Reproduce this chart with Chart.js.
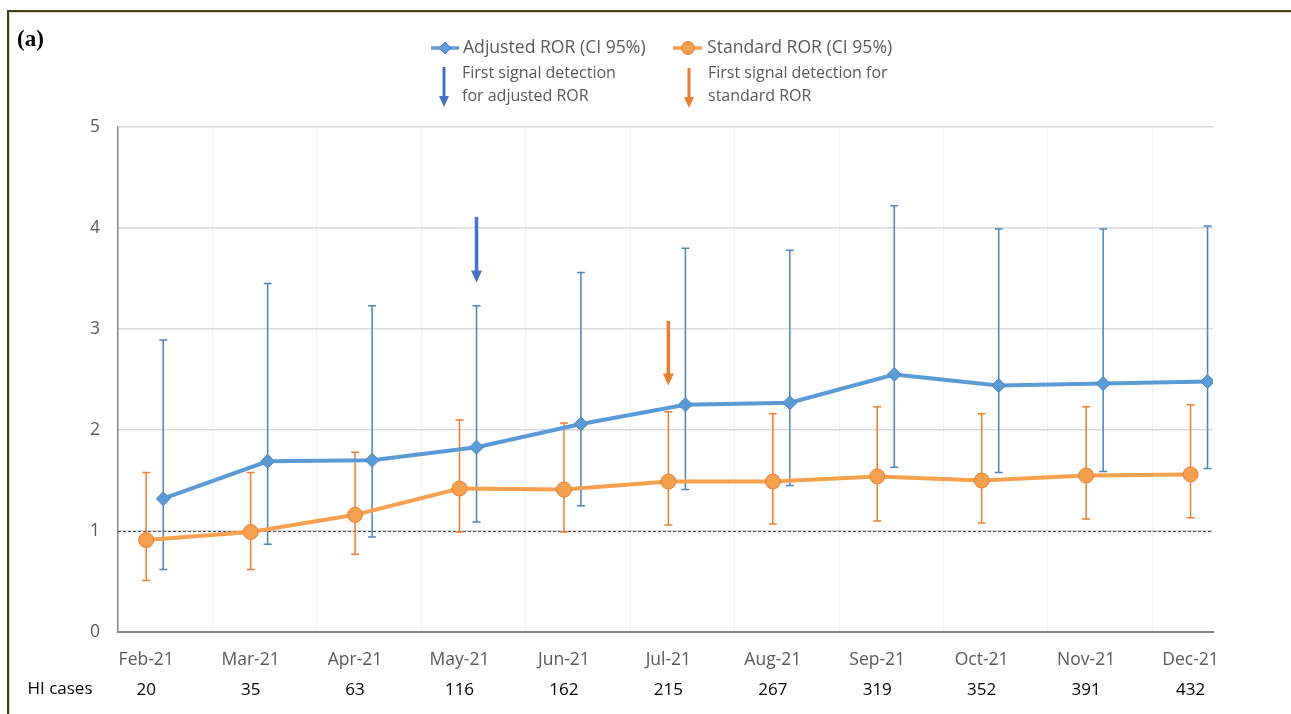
<!DOCTYPE html>
<html>
<head>
<meta charset="utf-8">
<script src="https://cdn.jsdelivr.net/npm/chart.js@4"></script>
<style>
  html, body { margin: 0; padding: 0; background: #fff; }
  #wrap { position: relative; width: 1291px; height: 714px; overflow: hidden; }
  #frame { position: absolute; left: 7px; top: 10px; right: -10px; bottom: -10px;
           border-left: 2px solid #3f3f22; border-top: 2px solid #3f3f22;
           box-shadow: inset 1px 1px 0 #d9d5b5; }
  canvas { position: absolute; left: 0; top: 0; }
</style>
</head>
<body>
<div id="wrap">
  <div id="frame"></div>
  <canvas id="rorChart" width="1291" height="714"></canvas>
</div>
<script>
const months = ["Feb-21", "Mar-21", "Apr-21", "May-21", "Jun-21", "Jul-21",
                "Aug-21", "Sep-21", "Oct-21", "Nov-21", "Dec-21"];
const hiCases = [20, 35, 63, 116, 162, 215, 267, 319, 352, 391, 432];

const adjustedRor = [1.32, 1.69, 1.70, 1.83, 2.06, 2.25, 2.27, 2.55, 2.44, 2.46, 2.48];
const adjustedLow = [0.62, 0.87, 0.94, 1.09, 1.25, 1.41, 1.45, 1.63, 1.58, 1.59, 1.62];
const adjustedHigh = [2.89, 3.45, 3.23, 3.23, 3.56, 3.80, 3.78, 4.22, 3.99, 3.99, 4.02];

const standardRor = [0.91, 0.99, 1.16, 1.42, 1.41, 1.49, 1.49, 1.54, 1.50, 1.55, 1.56];
const standardLow = [0.51, 0.62, 0.77, 0.99, 0.99, 1.06, 1.07, 1.10, 1.08, 1.12, 1.13];
const standardHigh = [1.58, 1.58, 1.78, 2.10, 2.07, 2.18, 2.16, 2.23, 2.16, 2.23, 2.25];

const yTicks = [0, 1, 2, 3, 4, 5];
const refLine = 1;

// first signal detection: month index and arrow span (ROR units)
const adjustedSignal = { month: 3, from: 4.11, to: 3.46 };
const standardSignal = { month: 5, from: 3.08, to: 2.44 };

// layout of the two series side by side on the month axis
const adjOffset = 0.163;
const xMin = -0.27, xMax = 10.215;
const gridOffset = 0.635;

const blue = "#5b9bd5", blueDark = "#4a84c0", blueArrow = "#4472c4";
const orange = "#f5a04e", orangeDark = "#ed7d31";
const grey = "#595959";
const FONT = "'Open Sans', sans-serif";

const adjPoints = months.map((m, i) => ({ x: i + adjOffset, y: adjustedRor[i] }));
const stdPoints = months.map((m, i) => ({ x: i, y: standardRor[i] }));

const errorBars = {
  id: "errorBars",
  beforeDatasetsDraw(chart) {
    const { ctx, scales: { x, y }, chartArea } = chart;
    ctx.save();
    // dashed reference line
    ctx.strokeStyle = "#4d4d4d";
    ctx.lineWidth = 1;
    ctx.setLineDash([3, 2]);
    const ry = Math.round(y.getPixelForValue(refLine)) + 0.5;
    ctx.beginPath();
    ctx.moveTo(chartArea.left, ry);
    ctx.lineTo(chartArea.right, ry);
    ctx.stroke();
    ctx.setLineDash([]);

    const bars = [
      { pts: adjPoints, lo: adjustedLow, hi: adjustedHigh, color: blueDark },
      { pts: stdPoints, lo: standardLow, hi: standardHigh, color: orangeDark },
    ];
    bars.forEach(b => {
      ctx.strokeStyle = b.color;
      ctx.lineWidth = 1.5;
      b.pts.forEach((p, i) => {
        const px = x.getPixelForValue(p.x);
        const y1 = y.getPixelForValue(b.lo[i]);
        const y2 = y.getPixelForValue(b.hi[i]);
        ctx.beginPath();
        ctx.moveTo(px, y1); ctx.lineTo(px, y2);
        ctx.moveTo(px - 4, y1); ctx.lineTo(px + 4, y1);
        ctx.moveTo(px - 4, y2); ctx.lineTo(px + 4, y2);
        ctx.stroke();
      });
    });
    ctx.restore();
  }
};

function arrow(ctx, x, y1, y2, color, shaft, headW, headH) {
  ctx.fillStyle = color;
  ctx.fillRect(x - shaft / 2, y1, shaft, y2 - y1 - headH + 1);
  ctx.beginPath();
  ctx.moveTo(x - headW / 2, y2 - headH);
  ctx.lineTo(x + headW / 2, y2 - headH);
  ctx.lineTo(x, y2);
  ctx.closePath();
  ctx.fill();
}

const annotations = {
  id: "annotations",
  afterDraw(chart) {
    const { ctx, scales: { x, y } } = chart;
    ctx.save();
    // signal arrows in the plot
    arrow(ctx, x.getPixelForValue(adjustedSignal.month + adjOffset),
          y.getPixelForValue(adjustedSignal.from), y.getPixelForValue(adjustedSignal.to),
          blueArrow, 3.5, 11, 12);
    arrow(ctx, x.getPixelForValue(standardSignal.month),
          y.getPixelForValue(standardSignal.from), y.getPixelForValue(standardSignal.to),
          orangeDark, 3.5, 11, 12);

    // panel tag
    ctx.fillStyle = "#000";
    ctx.font = "bold 23px 'Liberation Serif', serif";
    ctx.textBaseline = "middle";
    ctx.textAlign = "left";
    ctx.fillText("(a)", 17, 40);

    // HI cases row label
    ctx.font = "17px " + FONT;
    ctx.textAlign = "center";
    ctx.fillText("HI cases", 60, 689);

    // legend
    ctx.lineWidth = 3.5;
    ctx.strokeStyle = blue;
    ctx.beginPath(); ctx.moveTo(431, 48); ctx.lineTo(459, 48); ctx.stroke();
    ctx.fillStyle = blue;
    ctx.strokeStyle = blueDark;
    ctx.lineWidth = 1;
    ctx.beginPath();
    ctx.moveTo(445, 42); ctx.lineTo(451, 48); ctx.lineTo(445, 54); ctx.lineTo(439, 48);
    ctx.closePath(); ctx.fill(); ctx.stroke();

    ctx.lineWidth = 3.5;
    ctx.strokeStyle = orange;
    ctx.beginPath(); ctx.moveTo(673, 48); ctx.lineTo(702, 48); ctx.stroke();
    ctx.fillStyle = orange;
    ctx.strokeStyle = orangeDark;
    ctx.lineWidth = 1;
    ctx.beginPath(); ctx.arc(688, 48, 6.5, 0, Math.PI * 2); ctx.fill(); ctx.stroke();

    arrow(ctx, 444, 67, 107, blueArrow, 3, 10, 11);
    arrow(ctx, 689, 68, 108, orangeDark, 3, 10, 11);

    ctx.fillStyle = grey;
    ctx.textAlign = "left";
    ctx.font = "17.6px " + FONT;
    ctx.fillText("Adjusted ROR (CI 95%)", 463, 48);
    ctx.fillText("Standard ROR (CI 95%)", 707, 48);
    ctx.font = "16px " + FONT;
    ctx.fillText("First signal detection", 462, 73);
    ctx.fillText("for adjusted ROR", 462, 96);
    ctx.fillText("First signal detection for", 708, 73);
    ctx.fillText("standard ROR", 708, 96);
    ctx.restore();
  }
};

const isMonth = v => Math.abs(v - Math.round(v)) < 1e-6;

new Chart(document.getElementById("rorChart"), {
  type: "line",
  data: {
    datasets: [
      {
        label: "Adjusted ROR (CI 95%)",
        data: adjPoints,
        borderColor: blue,
        borderWidth: 4,
        pointStyle: "rectRot",
        pointRadius: 7,
        pointBackgroundColor: blue,
        pointBorderColor: blueDark,
        pointBorderWidth: 1,
        tension: 0,
      },
      {
        label: "Standard ROR (CI 95%)",
        data: stdPoints,
        borderColor: orange,
        borderWidth: 4,
        pointStyle: "circle",
        pointRadius: 7.5,
        pointBackgroundColor: orange,
        pointBorderColor: orangeDark,
        pointBorderWidth: 1,
        tension: 0,
      },
    ],
  },
  options: {
    responsive: false,
    animation: false,
    layout: { padding: { top: 127, right: 78, left: 0, bottom: 0 } },
    plugins: { legend: { display: false }, tooltip: { enabled: false } },
    scales: {
      x: {
        type: "linear",
        min: xMin,
        max: xMax,
        afterBuildTicks: s => {
          const t = [];
          months.forEach((m, i) => {
            t.push({ value: i });
            if (i < months.length - 1) t.push({ value: i + gridOffset });
          });
          s.ticks = t;
        },
        afterFit: s => { s.height = 40; },
        ticks: {
          autoSkip: false,
          maxRotation: 0,
          padding: 18,
          color: grey,
          font: { family: FONT, size: 17.5 },
          callback: v => isMonth(v) ? months[Math.round(v)] : "",
        },
        grid: {
          drawTicks: false,
          lineWidth: 1,
          color: c => (c.tick && isMonth(c.tick.value)) ? "rgba(0,0,0,0)" : "#f0f0f0",
        },
        border: { color: "#868686", width: 2 },
      },
      x2: {
        type: "linear",
        position: "bottom",
        min: xMin,
        max: xMax,
        afterBuildTicks: s => { s.ticks = months.map((m, i) => ({ value: i })); },
        afterFit: s => { s.height = 42; },
        ticks: {
          autoSkip: false,
          maxRotation: 0,
          padding: 8,
          color: "#000",
          font: { family: FONT, size: 17 },
          callback: v => hiCases[Math.round(v)],
        },
        grid: { display: false, drawTicks: false },
        border: { display: false },
      },
      y: {
        min: 0,
        max: 5,
        afterBuildTicks: s => { s.ticks = yTicks.map(v => ({ value: v })); },
        afterFit: s => { s.width = 118; },
        ticks: {
          padding: 18,
          color: grey,
          font: { family: FONT, size: 17.5 },
        },
        grid: { drawTicks: false, color: "#d9d9d9", lineWidth: 1.5 },
        border: { color: "#868686", width: 1.5 },
      },
    },
  },
  plugins: [errorBars, annotations],
});
</script>
</body>
</html>
